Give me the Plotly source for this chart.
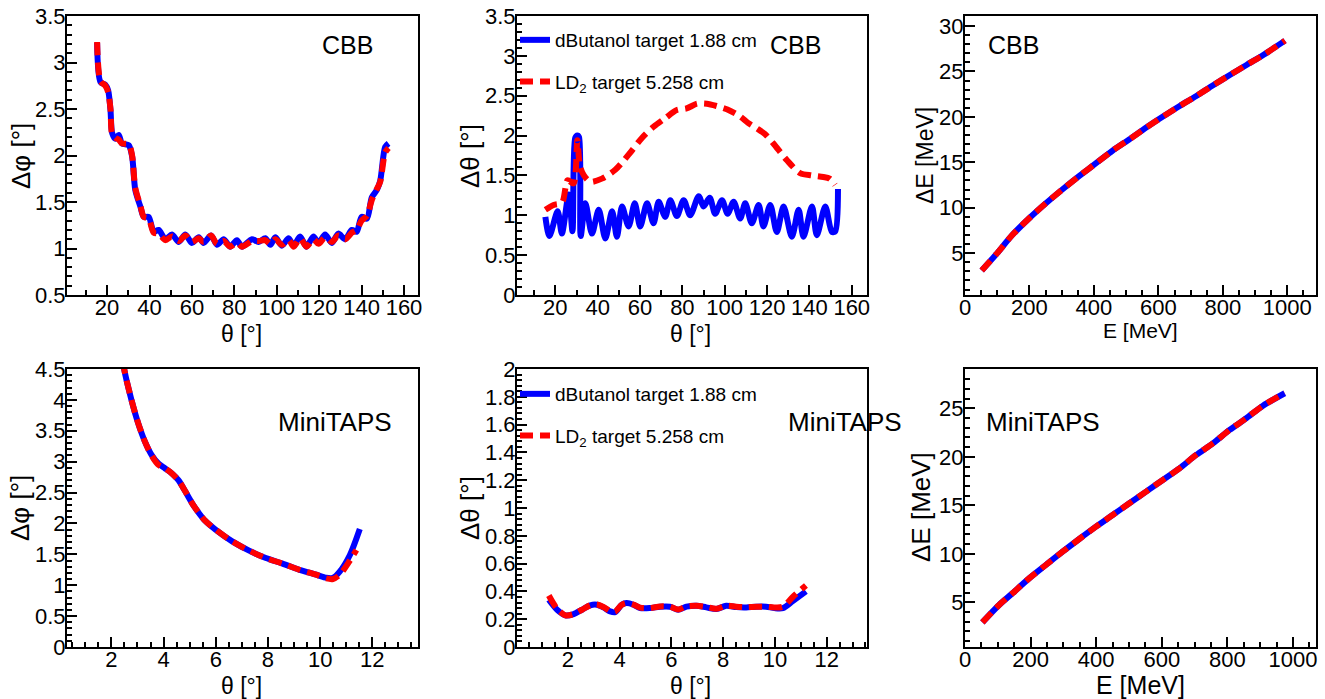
import plotly.graph_objects as go

W, H = 1325, 699

# ---------------- Data ----------------
# Panel 1: CBB delta phi vs theta
theta_cbb_phi = [15.3, 16.9, 19.2, 20.5, 21.6, 22.4, 23.9, 25.5, 27.0, 30.2, 31.8, 33.3, 35.7, 37.3, 39.6,
                 42.0, 44.3, 47.5, 50.6, 53.8, 56.9, 60.0, 63.2, 65.5, 69.0, 71.8, 75.0, 78.0, 81.2, 83.6,
                 88.3, 91.4, 94.6, 97.0, 99.3, 102.4, 105.6, 108.0, 111.0, 114.0, 117.3, 119.7, 122.8, 126.0,
                 129.0, 132.3, 135.4, 137.7, 140.0, 142.5, 144.8, 147.2, 148.8, 151.1, 152.7]
dphi_cbb_butanol = [3.21, 2.79, 2.76, 2.70, 2.49, 2.24, 2.18, 2.22, 2.13, 2.11, 1.99, 1.63, 1.45, 1.34, 1.34,
                    1.18, 1.20, 1.10, 1.15, 1.07, 1.15, 1.06, 1.12, 1.06, 1.14, 1.04, 1.10, 1.02, 1.09, 1.02,
                    1.10, 1.07, 1.11, 1.04, 1.12, 1.03, 1.11, 1.03, 1.13, 1.02, 1.13, 1.06, 1.15, 1.06,
                    1.16, 1.10, 1.20, 1.18, 1.34, 1.32, 1.55, 1.63, 1.73, 2.09, 2.13]
dphi_cbb_ld2 = [3.22, 2.80, 2.75, 2.68, 2.50, 2.23, 2.19, 2.17, 2.13, 2.12, 2.00, 1.65, 1.46, 1.34, 1.32,
                1.17, 1.16, 1.09, 1.13, 1.08, 1.14, 1.07, 1.11, 1.07, 1.14, 1.05, 1.08, 1.02, 1.06, 1.02,
                1.08, 1.08, 1.09, 1.05, 1.10, 1.04, 1.09, 1.02, 1.11, 1.02, 1.10, 1.05, 1.12, 1.07,
                1.14, 1.10, 1.17, 1.20, 1.30, 1.35, 1.52, 1.64, 1.72, 2.03, 2.08]

# Panel 2: CBB delta theta vs theta
theta_cbb_th_butanol = [15.3, 17.2, 21.1, 23.1, 26.3, 28.1, 29.4, 30.4, 31.2, 32.0, 34.2, 37.3, 40.5, 43.6,
                        46.8, 49.1, 51.5, 54.6, 57.5, 60.1, 63.3, 66.4, 68.8, 71.9, 74.3, 77.4, 80.6, 83.7,
                        87.7, 90.0, 92.9, 95.5, 98.7, 101.4, 104.2, 107.3, 109.7, 112.8, 116.0, 118.3, 121.5,
                        124.6, 127.8, 131.7, 134.9, 137.2, 141.2, 143.5, 147.5, 150.6, 152.2, 153.5]
dtheta_cbb_butanol = [0.98, 0.74, 1.05, 0.77, 1.26, 0.80, 1.97, 2.00, 1.98, 0.74, 1.15, 0.77, 1.07, 0.71,
                      1.05, 0.73, 1.11, 0.86, 1.15, 0.86, 1.15, 0.90, 1.17, 0.98, 1.19, 0.99, 1.19, 1.00,
                      1.24, 1.11, 1.22, 1.02, 1.19, 1.02, 1.17, 0.96, 1.15, 0.90, 1.13, 0.86, 1.13,
                      0.79, 1.11, 0.73, 1.07, 0.73, 1.11, 0.75, 1.11, 0.79, 0.80, 1.33]
theta_cbb_th_ld2 = [15.3, 19.2, 23.2, 25.8, 28.6, 30.4, 31.6, 33.5, 36.5, 42.0, 48.3, 54.6, 60.9, 66.4,
                    72.0, 77.4, 82.0, 86.9, 91.5, 96.3, 101.0, 107.3, 111.0, 115.2, 119.0, 123.0, 129.4,
                    135.6, 141.1, 146.6, 149.5, 152.1]
dtheta_cbb_ld2 = [1.07, 1.13, 1.16, 1.44, 1.40, 1.94, 1.62, 1.50, 1.42, 1.46, 1.57, 1.76, 1.97, 2.11,
                  2.22, 2.32, 2.34, 2.40, 2.40, 2.37, 2.33, 2.24, 2.16, 2.09, 2.02, 1.90, 1.69,
                  1.53, 1.50, 1.48, 1.46, 1.38]

# Panel 3: CBB delta E vs E
e_cbb = [51.9, 95.4, 147.3, 199.2, 251.0, 302.9, 354.8, 406.6, 458.5, 510.4, 562.2, 614.1, 666.0,
         717.8, 769.7, 821.6, 873.4, 925.3, 992.7]
de_cbb_butanol = [3.10, 4.82, 7.02, 8.85, 10.50, 12.04, 13.50, 14.90, 16.30, 17.54, 18.82, 20.03, 21.20,
                  22.30, 23.48, 24.61, 25.71, 26.81, 28.39]
de_cbb_ld2 = [3.10, 4.82, 7.02, 8.85, 10.50, 12.04, 13.50, 14.90, 16.30, 17.54, 18.82, 20.03, 21.20,
              22.30, 23.48, 24.61, 25.71, 26.81, 28.39]

# Panel 4: MiniTAPS delta phi vs theta
theta_mt_phi_butanol = [2.35, 2.49, 2.77, 3.03, 3.29, 3.54, 3.80, 4.06, 4.32, 4.57, 4.83, 5.09, 5.35, 5.60,
                        5.99, 6.63, 7.28, 7.92, 8.56, 9.21, 9.85, 10.24, 10.49, 10.75, 11.14, 11.52]
dphi_mt_butanol = [4.95, 4.50, 4.00, 3.62, 3.32, 3.11, 2.97, 2.89, 2.81, 2.70, 2.52, 2.33, 2.17, 2.04,
                   1.90, 1.71, 1.56, 1.44, 1.35, 1.25, 1.17, 1.12, 1.12, 1.22, 1.49, 1.91]
theta_mt_phi_ld2 = [2.35, 2.49, 2.77, 3.03, 3.29, 3.54, 3.80, 4.06, 4.32, 4.57, 4.83, 5.09, 5.35, 5.60,
                    5.99, 6.63, 7.28, 7.92, 8.56, 9.21, 9.85, 10.24, 10.49, 10.75, 11.14, 11.39]
dphi_mt_ld2 = [4.95, 4.50, 4.00, 3.62, 3.32, 3.10, 2.95, 2.89, 2.81, 2.70, 2.52, 2.33, 2.17, 2.04,
               1.90, 1.71, 1.56, 1.44, 1.35, 1.25, 1.17, 1.11, 1.10, 1.17, 1.40, 1.57]

# Panel 5: MiniTAPS delta theta vs theta
theta_mt_th = [1.26, 1.58, 1.90, 2.22, 2.54, 2.86, 3.12, 3.37, 3.63, 3.82, 4.08, 4.27, 4.53, 4.79, 5.17,
               5.56, 5.94, 6.26, 6.58, 6.97, 7.35, 7.74, 8.12, 8.51, 8.89, 9.28, 9.66, 9.98, 10.31,
               10.69, 11.20]
dtheta_mt_butanol = [0.34, 0.268, 0.228, 0.237, 0.268, 0.30, 0.304, 0.285, 0.256, 0.25, 0.304, 0.316,
                     0.304, 0.28, 0.28, 0.29, 0.29, 0.268, 0.29, 0.297, 0.285, 0.273, 0.297, 0.287, 0.285,
                     0.29, 0.29, 0.28, 0.28, 0.33, 0.40]
dtheta_mt_ld2 = [0.37, 0.275, 0.228, 0.237, 0.268, 0.30, 0.306, 0.288, 0.258, 0.255, 0.304, 0.316,
                 0.306, 0.283, 0.281, 0.292, 0.29, 0.27, 0.292, 0.297, 0.288, 0.275, 0.297, 0.29, 0.287,
                 0.29, 0.29, 0.285, 0.29, 0.36, 0.443]

# Panel 6: MiniTAPS delta E vs E
e_mt = [53.0, 103.9, 144.6, 195.5, 246.4, 297.4, 348.3, 399.2, 450.1, 501.0, 552.0, 602.9, 653.8,
        704.7, 755.6, 806.5, 857.4, 908.4, 974.6]
de_mt_butanol = [2.94, 4.73, 5.93, 7.47, 8.85, 10.22, 11.53, 12.80, 14.00, 15.21, 16.41, 17.61, 18.81,
                 20.19, 21.39, 22.77, 23.97, 25.27, 26.55]
de_mt_ld2 = [2.94, 4.73, 5.93, 7.47, 8.85, 10.22, 11.53, 12.80, 14.00, 15.21, 16.41, 17.61, 18.81,
             20.19, 21.39, 22.77, 23.97, 25.27, 26.55]

label_butanol = "dButanol target 1.88 cm"
label_ld2 = "LD<sub>2</sub> target 5.258 cm"

# ---------------- Figure ----------------
FONT = "Liberation Sans, Arial, Helvetica, sans-serif"
BLUE = "rgb(0,0,255)"
RED = "rgb(255,0,0)"
LW = 6
DASH = "13px,7px"

fig = go.Figure()

panels = [
    (1, theta_cbb_phi, dphi_cbb_butanol, theta_cbb_phi, dphi_cbb_ld2, None),
    (2, theta_cbb_th_butanol, dtheta_cbb_butanol, theta_cbb_th_ld2, dtheta_cbb_ld2, "legend"),
    (3, e_cbb, de_cbb_butanol, e_cbb, de_cbb_ld2, None),
    (4, theta_mt_phi_butanol, dphi_mt_butanol, theta_mt_phi_ld2, dphi_mt_ld2, None),
    (5, theta_mt_th, dtheta_mt_butanol, theta_mt_th, dtheta_mt_ld2, "legend2"),
    (6, e_mt, de_mt_butanol, e_mt, de_mt_ld2, None),
]

for i, xb, yb, xr, yr, leg in panels:
    sfx = "" if i == 1 else str(i)
    show = leg is not None
    fig.add_trace(go.Scatter(
        x=xb, y=yb, mode="lines",
        line=dict(color=BLUE, width=LW, shape="spline", smoothing=0.8),
        name=label_butanol, showlegend=show, legend=leg if show else None,
        legendgroup="b%d" % i, xaxis="x" + sfx, yaxis="y" + sfx))
    fig.add_trace(go.Scatter(
        x=xr, y=yr, mode="lines",
        line=dict(color=RED, width=LW, dash=DASH, shape="spline", smoothing=0.8),
        name=label_ld2, showlegend=show, legend=leg if show else None,
        legendgroup="r%d" % i, xaxis="x" + sfx, yaxis="y" + sfx))

def px_x(p):
    return p / W

def px_y(p):
    return 1 - p / H

col_dom = [(67, 418), (517, 867), (965, 1316)]
row_dom = [(16, 295), (369, 647)]

xranges = [[1.1, 166.6], [1.9, 167.2], [0, 1089], [0.3, 13.75], [0.03, 13.56], [0, 1070]]
yranges = [[0.5, 3.5], [0, 3.5], [0.4, 31.1], [0, 4.5], [0, 2], [0.4, 29.05]]
xdt = [(20, 10), (20, 10), (200, 50), (2, 0.5), (2, 0.5), (200, 50)]
ydt = [(0.5, 0.1), (0.5, 0.1), (5, 1), (0.5, 0.1), (0.2, 0.04), (5, 1)]

tickfont = dict(family=FONT, size=22, color="black")
layout = dict(
    width=W, height=H, margin=dict(l=0, r=0, t=0, b=0, autoexpand=False),
    paper_bgcolor="white", plot_bgcolor="white",
    font=dict(family=FONT, color="black"),
)

for k in range(6):
    i = k + 1
    r, c = divmod(k, 3)
    xs = "xaxis" if i == 1 else "xaxis%d" % i
    ys = "yaxis" if i == 1 else "yaxis%d" % i
    anchor_x = "y" if i == 1 else "y%d" % i
    anchor_y = "x" if i == 1 else "x%d" % i
    layout[xs] = dict(
        domain=[px_x(col_dom[c][0]), px_x(col_dom[c][1])], anchor=anchor_x,
        range=xranges[k], showgrid=False, zeroline=False, automargin=False,
        showline=True, linecolor="black", linewidth=2, mirror=True,
        ticks="inside", ticklen=10, tickwidth=1.5, tickcolor="black",
        dtick=xdt[k][0], tick0=0, tickfont=tickfont, ticklabelstandoff=-8,
        minor=dict(ticks="inside", ticklen=5, tickwidth=1.5, tickcolor="black", dtick=xdt[k][1], tick0=0),
    )
    layout[ys] = dict(
        domain=[px_y(row_dom[r][1]), px_y(row_dom[r][0])], anchor=anchor_y,
        range=yranges[k], showgrid=False, zeroline=False, automargin=False,
        showline=True, linecolor="black", linewidth=2, mirror=True,
        ticks="inside", ticklen=10, tickwidth=1.5, tickcolor="black",
        dtick=ydt[k][0], tick0=0, tickfont=tickfont, ticklabelstandoff=-5,
        minor=dict(ticks="inside", ticklen=5, tickwidth=1.5, tickcolor="black", dtick=ydt[k][1], tick0=0),
    )

legend_common = dict(
    font=dict(family=FONT, size=19, color="black"),
    bgcolor="rgba(0,0,0,0)", borderwidth=0,
    xanchor="left", yanchor="middle", tracegroupgap=14,
    itemwidth=30,
)
layout["legend"] = dict(legend_common, x=px_x(515), y=px_y(61))
layout["legend2"] = dict(legend_common, x=px_x(515), y=px_y(415))

annotations = []
def ann(text, x, y, size, angle=0):
    annotations.append(dict(
        text=text, x=px_x(x), y=px_y(y), xref="paper", yref="paper",
        showarrow=False, xanchor="center", yanchor="middle", textangle=angle,
        font=dict(family=FONT, size=size, color="black")))

# detector labels
ann("CBB", 347, 45, 25)
ann("CBB", 795, 45, 25)
ann("CBB", 1013, 45, 25)
ann("MiniTAPS", 335, 422, 26)
ann("MiniTAPS", 845, 422, 26)
ann("MiniTAPS", 1043, 422, 26)

# axis titles
ann("θ [°]", 241, 334, 23)
ann("θ [°]", 690, 334, 23)
ann("E [MeV]", 1140, 331, 21)
ann("θ [°]", 241, 686, 23)
ann("θ [°]", 690, 686, 23)
ann("E [MeV]", 1140, 685, 25)
ann("Δφ [°]", 21, 156, 26, -90)
ann("Δθ [°]", 470, 156, 26, -90)
ann("ΔE [MeV]", 925, 155, 23, -90)
ann("Δφ [°]", 20, 508, 26, -90)
ann("Δθ [°]", 470, 508, 26, -90)
ann("ΔE [MeV]", 921, 507, 26, -90)

layout["annotations"] = annotations
fig.update_layout(**layout)
fig.write_html("out.html")
